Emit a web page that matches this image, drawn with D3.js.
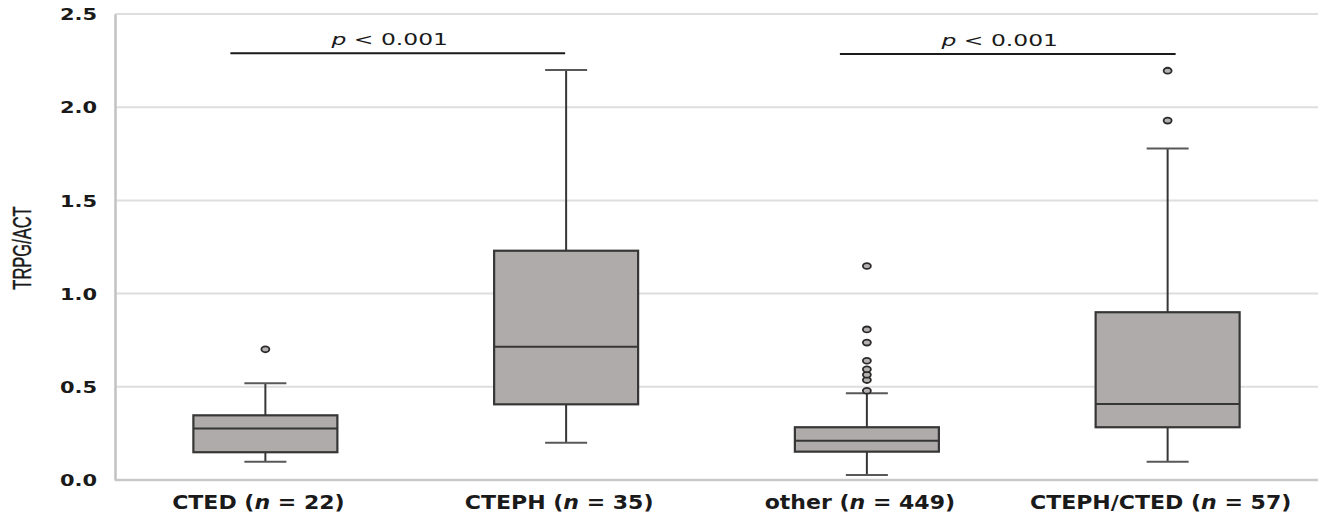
<!DOCTYPE html>
<html>
<head>
<meta charset="utf-8">
<script src="https://cdn.jsdelivr.net/npm/d3@7"></script>
<style>
  body { margin: 0; background: #fff; }
  svg { display: block; }
</style>
</head>
<body>
<div id="chart"></div>
<script>
// groups and their sizes
const categories = ["CTED", "CTEPH", "other", "CTEPH/CTED"];
const sampleSizes = [22, 35, 449, 57];

// box plot summary values (TRPG/ACT)
const whiskerLow = [0.098, 0.200, 0.027, 0.098];
const q1 = [0.149, 0.406, 0.152, 0.283];
const medians = [0.276, 0.715, 0.211, 0.408];
const q3 = [0.347, 1.230, 0.283, 0.900];
const whiskerHigh = [0.519, 2.200, 0.465, 1.779];
const outliers = [
  [0.701],
  [],
  [0.479, 0.536, 0.565, 0.594, 0.640, 0.737, 0.808, 1.148],
  [1.928, 2.196]
];

const yTicks = [0, 0.5, 1.0, 1.5, 2.0, 2.5];

// significance brackets
const bracketFrom = ["CTED", "other"];
const bracketTo = ["CTEPH", "CTEPH/CTED"];
const bracketLevel = [2.29, 2.285];
const bracketText = ["p < 0.001", "p < 0.001"];

const W = 1320, H = 515;
const margin = { top: 14, right: 2, bottom: 35, left: 115 };

const svg = d3.select("#chart").append("svg")
  .attr("width", W)
  .attr("height", H);

const x = d3.scalePoint()
  .domain(categories)
  .range([margin.left, W - margin.right])
  .padding(0.5);

const y = d3.scaleLinear()
  .domain([0, 2.5])
  .range([H - margin.bottom, margin.top]);

const boxW = 144, capW = 42;

// gridlines
svg.append("g")
  .selectAll("line")
  .data(yTicks.filter(d => d > 0))
  .join("line")
  .attr("x1", margin.left)
  .attr("x2", W - margin.right)
  .attr("y1", d => y(d))
  .attr("y2", d => y(d))
  .attr("stroke", "#dedede")
  .attr("stroke-width", 2);

// y axis - the original text is wide, so stretch it a bit horizontally
const yAxis = svg.append("g")
  .attr("transform", `translate(${margin.left},0)`)
  .call(d3.axisLeft(y).tickValues(yTicks).tickFormat(d3.format(".1f")).tickSize(0));
yAxis.select(".domain").attr("stroke", "#c2c2c2").attr("stroke-width", 2.5);
yAxis.selectAll("text")
  .attr("x", 0)
  .attr("dy", "0.36em")
  .attr("text-anchor", "end")
  .attr("transform", "translate(-18,0) scale(1.31,1)")
  .attr("font-family", "DejaVu Sans")
  .attr("font-weight", "bold")
  .attr("font-size", 16)
  .attr("fill", "#1a1a1a");

// baseline
svg.append("line")
  .attr("x1", margin.left)
  .attr("x2", W - margin.right)
  .attr("y1", y(0))
  .attr("y2", y(0))
  .attr("stroke", "#c8c8c8")
  .attr("stroke-width", 2.5);

// y title (condensed look)
svg.append("text")
  .attr("transform", `translate(31,${(y(0) + y(2.5)) / 2 + 1}) rotate(-90) scale(0.66,1)`)
  .attr("text-anchor", "middle")
  .attr("font-family", "Liberation Sans")
  .attr("font-size", 25)
  .attr("fill", "#1a1a1a")
  .attr("stroke", "#1a1a1a")
  .attr("stroke-width", 0.4)
  .text("TRPG/ACT");

// x labels
const xl = svg.append("g")
  .selectAll("g")
  .data(categories)
  .join("g")
  .attr("transform", d => `translate(${x(d) - 7},${H - 6}) scale(1.16,1)`)
  .append("text")
  .attr("text-anchor", "middle")
  .attr("font-family", "DejaVu Sans")
  .attr("font-weight", "bold")
  .attr("font-size", 19)
  .attr("fill", "#1a1a1a");
xl.append("tspan").text(d => d + " (");
xl.append("tspan").attr("font-style", "italic").text("n");
xl.append("tspan").text((d, i) => " = " + sampleSizes[i] + ")");

// boxes
const boxes = svg.append("g")
  .selectAll("g")
  .data(categories)
  .join("g");

const stroke = "#363636";

// whiskers
boxes.append("line")
  .attr("x1", d => x(d)).attr("x2", d => x(d))
  .attr("y1", (d, i) => y(whiskerHigh[i]))
  .attr("y2", (d, i) => y(q3[i]))
  .attr("stroke", stroke).attr("stroke-width", 2);
boxes.append("line")
  .attr("x1", d => x(d)).attr("x2", d => x(d))
  .attr("y1", (d, i) => y(q1[i]))
  .attr("y2", (d, i) => y(whiskerLow[i]))
  .attr("stroke", stroke).attr("stroke-width", 2);

// caps
[whiskerHigh, whiskerLow].forEach(arr => {
  boxes.append("line")
    .attr("x1", d => x(d) - capW / 2)
    .attr("x2", d => x(d) + capW / 2)
    .attr("y1", (d, i) => y(arr[i]))
    .attr("y2", (d, i) => y(arr[i]))
    .attr("stroke", "#585858").attr("stroke-width", 2);
});

boxes.append("rect")
  .attr("x", d => x(d) - boxW / 2)
  .attr("width", boxW)
  .attr("y", (d, i) => y(q3[i]))
  .attr("height", (d, i) => y(q1[i]) - y(q3[i]))
  .attr("fill", "#afabaa")
  .attr("stroke", stroke)
  .attr("stroke-width", 2.2);

boxes.append("line")
  .attr("x1", d => x(d) - boxW / 2)
  .attr("x2", d => x(d) + boxW / 2)
  .attr("y1", (d, i) => y(medians[i]))
  .attr("y2", (d, i) => y(medians[i]))
  .attr("stroke", stroke).attr("stroke-width", 2);

// outliers
boxes.selectAll("ellipse")
  .data((d, i) => outliers[i].map(v => ({ cat: d, v })))
  .join("ellipse")
  .attr("cx", d => x(d.cat))
  .attr("cy", d => y(d.v))
  .attr("rx", 4)
  .attr("ry", 2.9)
  .attr("fill", "#b5b1b0")
  .attr("stroke", "#2a2a2a")
  .attr("stroke-width", 1.8);

// significance brackets
const br = svg.append("g")
  .selectAll("g")
  .data(bracketText)
  .join("g");

const bx1 = i => x(bracketFrom[i]) - (i === 0 ? 35 : 27);
const bx2 = i => x(bracketTo[i]) + (i === 0 ? -1 : 8);

br.append("line")
  .attr("x1", (d, i) => bx1(i))
  .attr("x2", (d, i) => bx2(i))
  .attr("y1", (d, i) => y(bracketLevel[i]))
  .attr("y2", (d, i) => y(bracketLevel[i]))
  .attr("stroke", "#1a1a1a")
  .attr("stroke-width", 2);

const bt = br.append("g")
  .attr("transform", (d, i) => `translate(${(bx1(i) + bx2(i)) / 2 - 8},${y(bracketLevel[i]) - 8}) scale(1.42,1)`)
  .append("text")
  .attr("text-anchor", "middle")
  .attr("font-family", "DejaVu Sans")
  .attr("font-size", 16.5)
  .attr("fill", "#1a1a1a");
bt.append("tspan").attr("font-style", "italic").text(d => d.split(" ")[0]);
bt.append("tspan").text(d => " " + d.split(" ").slice(1).join(" "));
</script>
</body>
</html>
